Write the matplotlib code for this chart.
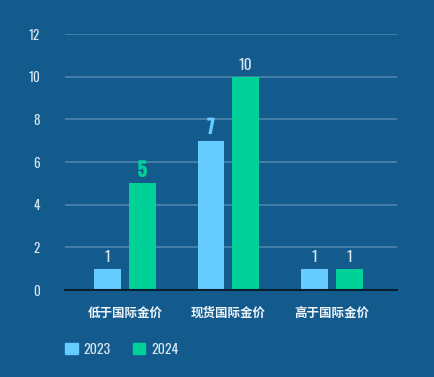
import matplotlib
matplotlib.use("Agg")
import matplotlib.pyplot as plt
import matplotlib.patheffects as pe
from matplotlib.patches import Patch
import numpy as np

categories = ["低于国际金价", "现货国际金价", "高于国际金价"]
series_names = ["2023", "2024"]
values_2023 = [1, 7, 1]
values_2024 = [5, 10, 1]
yticks = [0, 2, 4, 6, 8, 10, 12]

bg = "#135b8d"
c23 = "#66ccff"
c24 = "#00d199"
txt = "#d6e4f0"

plt.rcParams['font.family'] = ['Noto Sans CJK SC', 'DejaVu Sans']
num_font = ['Oswald', 'DejaVu Sans']

fig = plt.figure(figsize=(4.35, 3.77), dpi=100, facecolor=bg)
ax = fig.add_axes([65/435, 1-290/377, (397-65)/435, (290-34)/377], facecolor=bg)

x = np.arange(len(categories))
w = 0.26
off = 0.168
b1 = ax.bar(x - off, values_2023, w, color=c23, zorder=3)
b2 = ax.bar(x + off, values_2024, w, color=c24, zorder=3)

ax.set_ylim(0, 12)
ax.set_xlim(-0.58, 2.63)
ax.set_yticks(yticks)
ax.set_yticklabels([str(t) for t in yticks], family=num_font, fontsize=9.5,
                   fontweight='light', color=txt)
ax.yaxis.grid(True, color="#4f86ad", linewidth=1.2, zorder=0)
ax.tick_params(axis='y', length=0, pad=18)
ax.set_xticks(x)
ax.set_xticklabels(categories, fontsize=9, color="#eef4fa", fontweight='bold')
ax.tick_params(axis='x', length=0, pad=12)
for s in ['top', 'right', 'left']:
    ax.spines[s].set_visible(False)
ax.spines['bottom'].set_color("#0b1e30")
ax.spines['bottom'].set_linewidth(1.5)
ax.spines['bottom'].set_zorder(4)

# value labels: (colour, size, emphasised)
label_styles_23 = [(txt, 11, False), (c23, 13.5, True), (txt, 11, False)]
label_styles_24 = [(c24, 13.5, True), (txt, 11, False), (txt, 11, False)]
for bars, vals, styles in [(b1, values_2023, label_styles_23), (b2, values_2024, label_styles_24)]:
    for rect, v, (col, fs, emph) in zip(bars, vals, styles):
        t = ax.annotate(str(v), (rect.get_x() + rect.get_width()/2, v), xytext=(0, 3),
                        textcoords='offset points', ha='center', va='bottom',
                        color=col, fontsize=fs, family=num_font)
        if emph:
            t.set_path_effects([pe.withStroke(linewidth=1.0, foreground=col)])

# legend
handles = [Patch(color=c23), Patch(color=c24)]
leg = fig.legend(handles, series_names, loc='center left', bbox_to_anchor=(53/435, 1-349/377),
                 ncol=2, frameon=False, handlelength=0.9, handleheight=0.9,
                 handletextpad=0.4, columnspacing=1.6,
                 prop={'family': num_font, 'size': 10, 'weight': 'light'})
for t in leg.get_texts():
    t.set_color(txt)

fig.savefig("out.png", dpi=100, facecolor=bg)
